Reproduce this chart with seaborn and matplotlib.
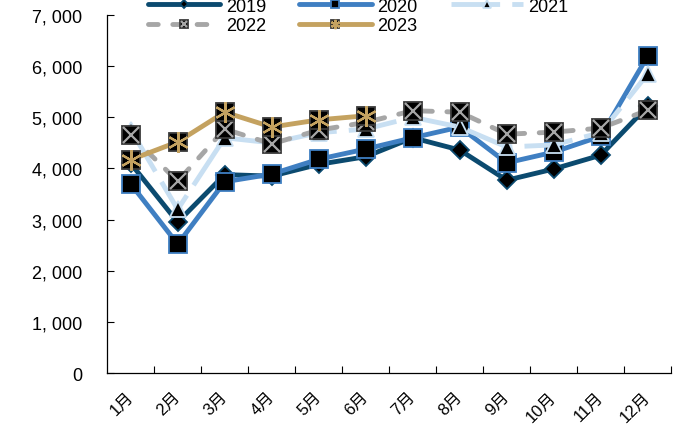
import matplotlib
matplotlib.use("Agg")
import numpy as np
import matplotlib.pyplot as plt
import seaborn as sns
from matplotlib.ticker import FuncFormatter, MultipleLocator
from matplotlib.legend_handler import HandlerTuple

# Monthly values
months = ["1月", "2月", "3月", "4月", "5月", "6月",
          "7月", "8月", "9月", "10月", "11月", "12月"]
years = ["2019", "2020", "2021", "2022", "2023"]
v2019 = [4100, 2950, 3880, 3850, 4080, 4230, 4600, 4360, 3770, 3990, 4260, 5220]
v2020 = [3700, 2520, 3740, 3890, 4180, 4380, 4600, 4810, 4110, 4320, 4630, 6200]
v2021 = [4760, 3200, 4600, 4500, 4700, 4770, 5000, 4810, 4420, 4460, 4700, 5850]
v2022 = [4650, 3750, 4770, 4480, 4750, 4900, 5130, 5100, 4670, 4710, 4790, 5140]
v2023 = [4170, 4520, 5100, 4810, 4950, 5030]
values = [v2019, v2020, v2021, v2022, v2023]

sns.set_theme(style="ticks")
plt.rcParams["font.family"] = ["Liberation Sans", "Noto Sans CJK SC"]
plt.rcParams["text.color"] = "black"
plt.rcParams["xtick.color"] = "black"
plt.rcParams["ytick.color"] = "black"

fig, ax = plt.subplots(figsize=(6.74, 4.27), dpi=100)
fig.subplots_adjust(left=0.159, right=0.996, bottom=0.124, top=0.9625)

styles = {
    "2019": dict(color="#0b4a6f", marker="D", ms=9.5, mec="#0b4a6f", dash=None),
    "2020": dict(color="#3f7fc2", marker="s", ms=13, mec="#3f7fc2", dash=None),
    "2021": dict(color="#c8dff2", marker="^", ms=12, mec="#c8dff2", dash=(10, 2.5)),
    "2022": dict(color="#a6a6a6", marker="s", ms=13, mec="#3a3a3a", dash=(2, 3)),
    "2023": dict(color="#c4a260", marker="s", ms=13, mec="#3a3a3a", dash=None),
}
overlay = {
    "2022": dict(marker="x", ms=11, color="#a6a6a6", mew=1.6),
    "2023": dict(marker=(6, 2, 0), ms=15, color="#c4a260", mew=1.6),
}

handles = {}
for year, vals in zip(years, values):
    st = styles[year]
    x = np.arange(len(vals))
    sns.lineplot(x=x, y=vals, ax=ax, sort=False, errorbar=None,
                 color=st["color"], lw=3.5, marker=st["marker"],
                 markersize=st["ms"], markerfacecolor="black",
                 markeredgecolor=st["mec"], markeredgewidth=1.3)
    line = ax.lines[-1]
    if st["dash"] is not None:
        line.set_dashes(st["dash"])
        if year == "2022":
            line.set_dash_capstyle("round")
    h = line
    if year in overlay:
        ov = overlay[year]
        (ol,) = ax.plot(x, vals, ls="none", marker=ov["marker"],
                        markersize=ov["ms"], color=ov["color"],
                        markeredgewidth=ov["mew"])
        h = (line, ol)
    handles[year] = h

ax.set_xlim(-0.5, 11.5)
ax.set_ylim(0, 7000)
ax.yaxis.set_major_locator(MultipleLocator(1000))
ax.yaxis.set_major_formatter(
    FuncFormatter(lambda v, _: f"{v:,.0f}".replace(",", ", ")))

ax.set_xticks(np.arange(len(months)))
ax.set_xticklabels(months, rotation=45, ha="right", va="center",
                   rotation_mode="anchor", fontsize=12)
ax.set_xticks(np.arange(0.5, 12, 1), minor=True)
ax.tick_params(axis="x", which="major", length=0, pad=15)
ax.tick_params(axis="x", which="minor", direction="in", length=5,
               width=0.8, color="black")
ax.tick_params(axis="y", direction="in", length=5, width=0.8,
               color="black", labelsize=13, pad=18)
ax.set_xlabel("")
ax.set_ylabel("")

sns.despine(ax=ax)
for s in ("left", "bottom"):
    ax.spines[s].set_color("black")
    ax.spines[s].set_linewidth(0.9)

order = ["2019", "2022", "2020", "2023", "2021"]
ax.legend([handles[y] for y in order], order, ncol=3, frameon=False,
          fontsize=13, handlelength=4.0, handletextpad=0.3,
          columnspacing=1.85, labelspacing=0.15, borderpad=0,
          borderaxespad=0, markerscale=0.45,
          handler_map={tuple: HandlerTuple(ndivide=1)},
          loc="upper left", bbox_to_anchor=(148 / 674, 1.003),
          bbox_transform=fig.transFigure)

fig.savefig("out.png", dpi=100)
